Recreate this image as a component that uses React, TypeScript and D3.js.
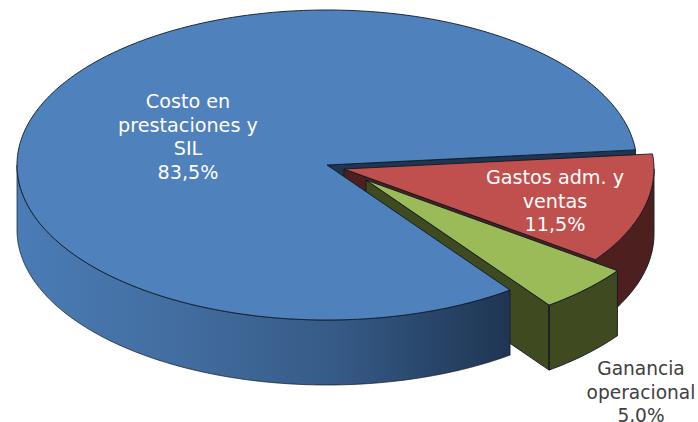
import React from "react";
import * as d3 from "d3";

const categories = ["Costo en prestaciones y SIL", "Gastos adm. y ventas", "Ganancia operacional"];
const shares = [83.5, 11.5, 5.0];
const labelLines = [
  ["Costo en", "prestaciones y", "SIL", "83,5%"],
  ["Gastos adm. y", "ventas", "11,5%"],
  ["Ganancia", "operacional", "5,0%"],
];
const topColors = ["#4f81bd", "#c0504d", "#9bbb59"];
const sideColors = ["#1f3552", "#4d1f1e", "#3f4a20"];
const labelColors = ["#ffffff", "#ffffff", "#404040"];
const labelX = [188, 555, 641];
const labelY = [108, 184, 375];
const labelSizes = [19.2, 19.2, 18.6];
const centersX = [327, 344, 366];
const centersY = [165, 169, 180];

const W = 698, H = 422, RX = 310, RY = 155, DEPTH = 65, LINE = 23.5;
const START = (143.8 * Math.PI) / 180;
const STROKE = "#0d1a26";

const sx = d3.scaleLinear().domain([-1, 1]).range([-RX, RX]);
const sy = d3.scaleLinear().domain([-1, 1]).range([-RY, RY]);
const pie = d3.pie<number>().sort(null).startAngle(START).endAngle(START + 2 * Math.PI);
const line = d3.line<[number, number]>();

type P = [number, number];
const pt = (i: number, a: number, dz = 0): P => [
  centersX[i] + sx(Math.sin(a)),
  centersY[i] + sy(-Math.cos(a)) + dz,
];
const samples = (a0: number, a1: number) => {
  const n = Math.max(2, Math.ceil(Math.abs(a1 - a0) * 60));
  return d3.range(n + 1).map((k) => a0 + ((a1 - a0) * k) / n);
};
const topPath = (i: number, a0: number, a1: number) =>
  line([[centersX[i], centersY[i]], ...samples(a0, a1).map((a) => pt(i, a))]) + "Z";
const wallPath = (i: number, a: number) =>
  line([[centersX[i], centersY[i]], pt(i, a), pt(i, a, DEPTH), [centersX[i], centersY[i] + DEPTH]]) + "Z";
// outer rim, only the part that faces the viewer
const rimPath = (i: number, a0: number, a1: number) => {
  const lo = Math.max(a0, Math.PI / 2);
  const hi = Math.min(a1, (3 * Math.PI) / 2);
  const arc = samples(lo, hi);
  return line([...arc.map((a) => pt(i, a)), ...arc.slice().reverse().map((a) => pt(i, a, DEPTH))]) + "Z";
};

export default function App() {
  const arcs = pie(shares);
  const [blue, red, green] = arcs;
  const blueEnd = blue.endAngle; // start edge of the large slice, seen top-right
  const redA0 = red.startAngle - 2 * Math.PI;
  const redA1 = red.endAngle - 2 * Math.PI;
  const greenA0 = green.startAngle - 2 * Math.PI;
  const greenA1 = green.endAngle - 2 * Math.PI;
  const common = { stroke: STROKE, strokeWidth: 0.9, strokeLinejoin: "round" as const };

  return (
    <svg
      width={W}
      height={H}
      viewBox={`0 0 ${W} ${H}`}
      style={{ position: "absolute", left: 0, top: 0, display: "block" }}
      role="img"
      aria-label={categories.join(", ")}
    >
      <defs>
        <linearGradient id="rim" gradientUnits="userSpaceOnUse" x1={17} x2={510} y1={0} y2={0}>
          <stop offset="0" stopColor="#4a7cb6" />
          <stop offset="0.35" stopColor="#426c9e" />
          <stop offset="0.65" stopColor="#355a86" />
          <stop offset="1" stopColor="#1f3552" />
        </linearGradient>
      </defs>
      <rect width={W} height={H} fill="#fff" />

      {/* inner face of the large slice */}
      <path d={wallPath(0, blueEnd)} fill={sideColors[0]} {...common} />

      {/* red walls */}
      <path d={wallPath(1, redA1)} fill={sideColors[1]} {...common} />
      <path d={rimPath(1, redA0, redA1)} fill={sideColors[1]} {...common} />

      {/* green walls */}
      <path d={wallPath(2, greenA1)} fill={sideColors[2]} {...common} />
      <path d={rimPath(2, greenA0, greenA1)} fill={sideColors[2]} {...common} />
      <path d={line([pt(2, greenA1), pt(2, greenA1, DEPTH)])!} fill="none" {...common} />

      {/* large slice */}
      <path d={rimPath(0, blue.startAngle, blue.endAngle)} fill="url(#rim)" {...common} strokeWidth={0.7} />
      <path d={topPath(0, blue.startAngle, blue.endAngle)} fill={topColors[0]} {...common} />

      {/* tops of the exploded slices */}
      <path d={topPath(1, redA0, redA1)} fill={topColors[1]} {...common} />
      <path d={topPath(2, greenA0, greenA1)} fill={topColors[2]} {...common} />

      {labelLines.map((lines, i) => (
        <text
          key={categories[i]}
          textAnchor="middle"
          fontFamily="'DejaVu Sans', Verdana, sans-serif"
          fontSize={labelSizes[i]}
          fill={labelColors[i]}
        >
          {lines.map((t, j) => (
            <tspan key={j} x={labelX[i]} y={labelY[i] + j * LINE}>
              {t}
            </tspan>
          ))}
        </text>
      ))}
    </svg>
  );
}
